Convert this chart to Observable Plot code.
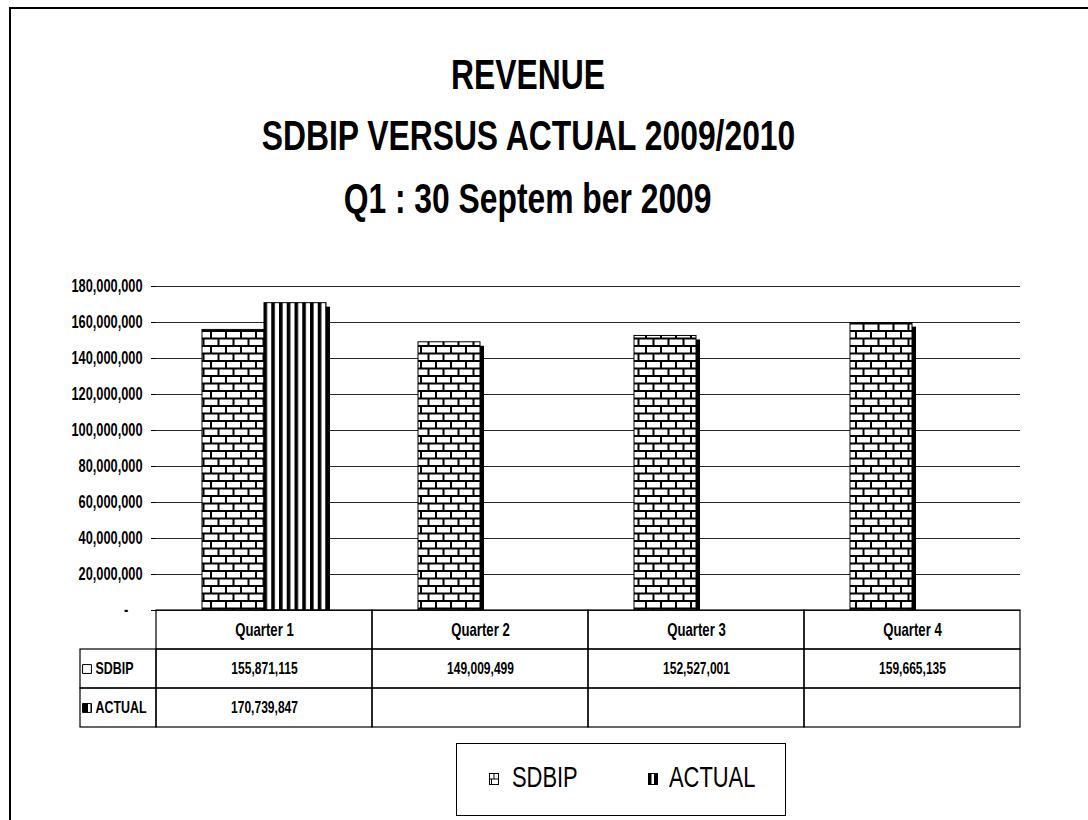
<!DOCTYPE html>
<html><head><meta charset="utf-8">
<script src="https://cdn.jsdelivr.net/npm/d3@7"></script>
<script src="https://cdn.jsdelivr.net/npm/@observablehq/plot@0.6"></script>
<style>
body{margin:0;background:#fff;width:1088px;height:820px;overflow:hidden;position:relative;
 font-family:"Liberation Sans",Arial,sans-serif;color:#000;}
#frame{position:absolute;left:9px;top:7px;width:1200px;height:900px;border-left:2px solid #000;border-top:2px solid #000;}
.t{position:absolute;left:0;width:1056px;text-align:center;font-weight:bold;font-size:43px;line-height:62px;white-space:nowrap;}
.t span{display:inline-block;transform:scaleX(0.74);transform-origin:center;}
#chart{position:absolute;left:0;top:270px;}
#table{position:absolute;left:155px;top:609px;}
#labels{position:absolute;left:79px;top:609px;}
#legend{position:absolute;left:456px;top:743px;width:330px;height:73px;border:1.5px solid #000;box-sizing:border-box;}
.lt{position:absolute;top:18px;font-size:30px;line-height:30px;white-space:nowrap;transform:scaleX(0.73);transform-origin:left center;}
.ls{position:absolute;top:27px;}
</style></head>
<body>
<svg width="0" height="0" style="position:absolute">
 <defs>
  <pattern id="brick" patternUnits="userSpaceOnUse" width="15" height="15">
   <rect width="15" height="15" fill="#fff"/>
   <path d="M0 1H15M0 8.5H15M1 0V8.5M8.5 8.5V15" stroke="#000" stroke-width="2" fill="none"/>
  </pattern>
  <pattern id="stripe" patternUnits="userSpaceOnUse" width="7.75" height="10">
   <rect width="7.75" height="10" fill="#fff"/>
   <rect width="3.6" height="10" fill="#000"/>
  </pattern>
  <pattern id="brickS" patternUnits="userSpaceOnUse" width="10" height="10">
   <rect width="10" height="10" fill="#fff"/>
   <path d="M0 4.5H10M5 0V4.5" stroke="#000" stroke-width="1.2" fill="none"/>
  </pattern>
  <pattern id="stripeS" patternUnits="userSpaceOnUse" width="10" height="10">
   <rect width="10" height="10" fill="#000"/>
   <rect x="1" width="2.5" height="10" fill="#fff"/>
  </pattern>
 </defs>
</svg>
<div id="frame"></div>
<div class="t" style="top:43px"><span>REVENUE</span></div>
<div class="t" style="top:104px"><span>SDBIP VERSUS ACTUAL 2009/2010</span></div>
<div class="t" style="top:167px"><span>Q1 : 30 Septem ber 2009</span></div>
<div id="chart"></div>
<div id="labels"></div>
<div id="table"></div>
<div id="legend"></div>
<script>
const quarters = ["Quarter 1", "Quarter 2", "Quarter 3", "Quarter 4"];
const series = ["SDBIP", "ACTUAL"];
const sdbip = [155871115, 149009499, 152527001, 159665135];
const actual = [170739847, null, null, null];
const yTicks = [0, 20000000, 40000000, 60000000, 80000000, 100000000, 120000000, 140000000, 160000000, 180000000];

const FONT = '"Liberation Sans",Arial,sans-serif';
const SX = 0.73;
const fmt = d3.format(",");
const sdbipRows = quarters.map((q, i) => ({quarter: q, series: "SDBIP", value: sdbip[i]}));
const actualRows = quarters.map((q, i) => ({quarter: q, series: "ACTUAL", value: actual[i]})).filter(d => d.value != null);

// narrow the glyphs of every text in a Plot svg (Arial Narrow look), keeping anchors in place
function squeeze(svg, sx) {
  d3.select(svg).selectAll("text").each(function() {
    const t = this.getAttribute("transform") || "";
    const x = this.getAttribute("x");
    let extra = "";
    if (x != null && !isNaN(+x)) {
      extra = ` translate(${+x},0)`;
      this.removeAttribute("x");
    }
    this.setAttribute("transform", `${t}${extra} scale(${sx},1)`);
  });
  return svg;
}

const PI = 92 / 216, PO = 46 / 216;
const half = 216 * (1 - PI) / 2;

const chart = Plot.plot({
  width: 1088, height: 352,
  marginLeft: 156, marginRight: 68, marginTop: 16, marginBottom: 12,
  style: {fontFamily: FONT, fontSize: "18px", fontWeight: "bold", color: "#000", background: "transparent"},
  x: {type: "band", domain: quarters, paddingInner: PI, paddingOuter: PO, axis: null},
  y: {domain: [0, 180000000]},
  marks: [
    Plot.ruleY(yTicks, {stroke: "#000", strokeOpacity: 0.85}),
    Plot.axisY({ticks: yTicks, tickSize: 5, tickPadding: 9, label: null, fontWeight: "bold",
      tickFormat: d => d === 0 ? "-\u00a0\u00a0\u00a0\u00a0" : fmt(d)}),
    Plot.barY(sdbipRows, {x: "quarter", y: "value", fill: "#000", dx: 4, dy: 4, insetRight: half, clip: true}),
    Plot.barY(actualRows, {x: "quarter", y: "value", fill: "#000", dx: 4, dy: 4, insetLeft: half, clip: true}),
    Plot.barY(sdbipRows, {x: "quarter", y: "value", fill: "url(#brick)", stroke: "#000", strokeWidth: 1, insetRight: half}),
    Plot.barY(actualRows, {x: "quarter", y: "value", fill: "url(#stripe)", stroke: "#000", strokeWidth: 1, insetLeft: half})
  ]
});
document.getElementById("chart").append(squeeze(chart, 0.71));

const rows = ["head", ...series];
const cells = [];
quarters.forEach(q => rows.forEach(r => cells.push({quarter: q, row: r})));
const valueRows = [
  ...quarters.map((q, i) => ({quarter: q, row: "SDBIP", text: fmt(sdbip[i])})),
  ...quarters.map((q, i) => ({quarter: q, row: "ACTUAL", text: actual[i] == null ? "" : fmt(actual[i])}))
];

const table = Plot.plot({
  width: 866, height: 119, marginLeft: 1, marginRight: 1, marginTop: 1, marginBottom: 1,
  style: {fontFamily: FONT, fontSize: "16.5px", fontWeight: "bold", color: "#000", background: "transparent"},
  x: {type: "band", domain: quarters, padding: 0, axis: null},
  y: {type: "band", domain: rows, padding: 0, axis: null},
  marks: [
    Plot.cell(cells, {x: "quarter", y: "row", fill: "none", stroke: "#000", strokeWidth: 1.2}),
    Plot.text(quarters, {x: d => d, y: () => "head", text: d => d, fontWeight: "bold", fontSize: 18}),
    Plot.text(valueRows, {x: "quarter", y: "row", text: "text", fontWeight: "bold"})
  ]
});
document.getElementById("table").append(squeeze(table, SX));

const labelRows = series.map(s => ({row: s, label: s}));
const labels = Plot.plot({
  width: 78, height: 119, marginLeft: 1, marginRight: 1, marginTop: 1, marginBottom: 1,
  style: {fontFamily: FONT, fontSize: "17px", fontWeight: "bold", color: "#000", background: "transparent"},
  x: {type: "band", domain: ["label"], padding: 0, axis: null},
  y: {type: "band", domain: rows, padding: 0, axis: null},
  marks: [
    Plot.cell(labelRows, {x: () => "label", y: "row", fill: "none", stroke: "#000", strokeWidth: 1.2}),
    Plot.dot(labelRows, {y: "row", frameAnchor: "left", dx: 6.5, symbol: "square", r: 5,
      fill: d => d.row === "SDBIP" ? "url(#brickS)" : "url(#stripeS)", stroke: "#000", strokeWidth: 1}),
    Plot.text(labelRows, {y: "row", text: "label", frameAnchor: "left", textAnchor: "start", dx: 15, fontWeight: "bold"})
  ]
});
document.getElementById("labels").append(squeeze(labels, SX));

// legend
const legend = document.getElementById("legend");
const legendPos = [{s: "SDBIP", sw: 32, tx: 55}, {s: "ACTUAL", sw: 191, tx: 212}];
legendPos.forEach(({s, sw, tx}) => {
  const swatch = s === "SDBIP"
    ? '<svg width="10" height="12"><rect x="0.5" y="0.5" width="9" height="11" fill="#fff" stroke="#000"/><path d="M0.5 6H9.5M5 0.5V6M2.5 6V11.5" stroke="#000" fill="none"/></svg>'
    : '<svg width="10" height="12"><rect x="0" y="0" width="10" height="12" fill="#000"/><rect x="3.5" y="1" width="2.5" height="10" fill="#fff"/></svg>';
  const a = document.createElement("div");
  a.className = "ls"; a.style.left = sw + "px"; a.innerHTML = swatch;
  const b = document.createElement("div");
  b.className = "lt"; b.style.left = tx + "px"; b.textContent = s;
  legend.append(a, b);
});
</script>
</body></html>
